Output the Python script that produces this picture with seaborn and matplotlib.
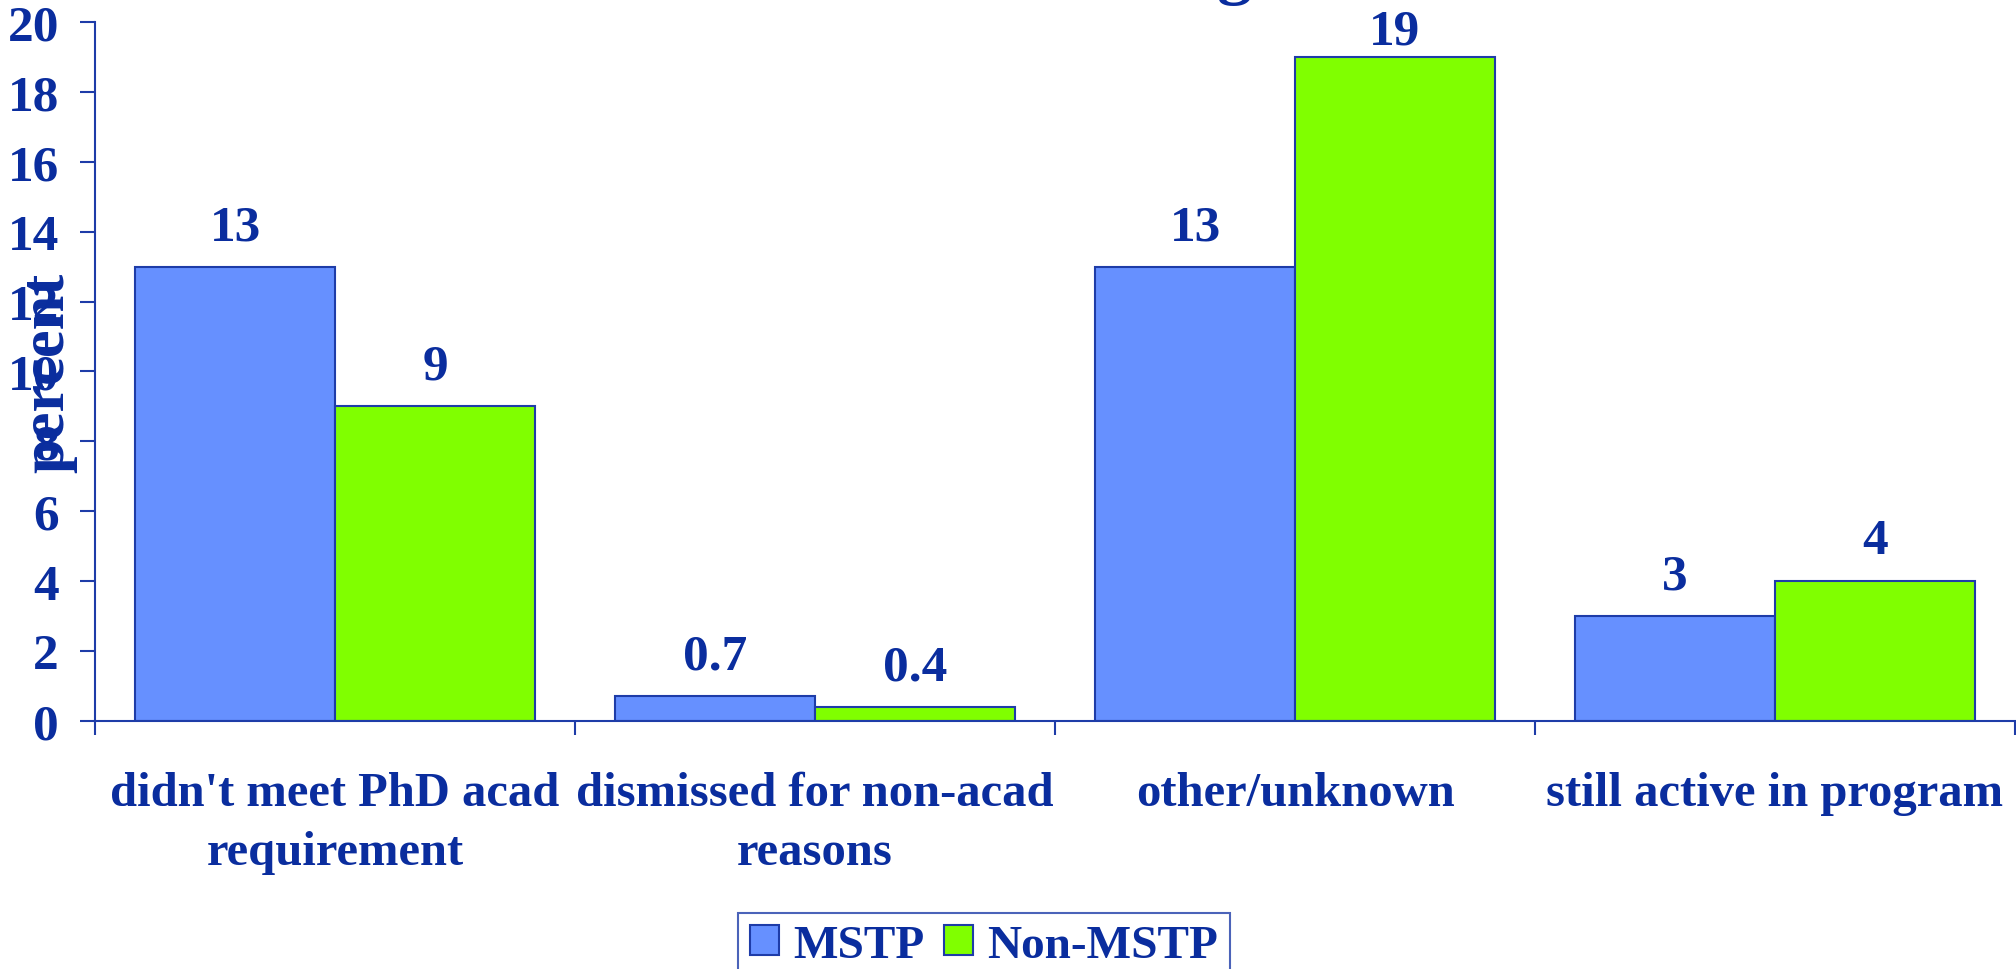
import matplotlib
matplotlib.use("Agg")
import matplotlib.pyplot as plt
import seaborn as sns
import pandas as pd
from matplotlib.patches import Patch

categories = ["didn't meet PhD acad\nrequirement", "dismissed for non-acad\nreasons",
              "other/unknown", "still active in program"]
mstp = [13, 0.7, 13, 3]
non_mstp = [9, 0.4, 19, 4]
label_mstp = ["13", "0.7", "13", "3"]
label_non = ["9", "0.4", "19", "4"]
series = ["MSTP", "Non-MSTP"]
yticks = list(range(0, 21, 2))

TXT = "#0A2D9E"
LINE = "#1E3CA8"
colors = {"MSTP": "#6690FF", "Non-MSTP": "#80FF00"}

df = pd.DataFrame({
    "category": categories * 2,
    "value": mstp + non_mstp,
    "series": ["MSTP"] * 4 + ["Non-MSTP"] * 4,
})

sns.set_theme(style="white")
plt.rcParams["font.family"] = ["Liberation Serif", "DejaVu Serif"]
plt.rcParams["font.weight"] = "bold"

fig = plt.figure(figsize=(20.16, 9.70), dpi=100)
ax = fig.add_axes([95 / 2016, 1 - 721.7 / 970, 1920 / 2016, (721.7 - 23.3) / 970])

sns.barplot(data=df, x="category", y="value", hue="series", order=categories,
            hue_order=series, palette=colors, width=0.833, gap=0,
            edgecolor=LINE, linewidth=1.5, ax=ax, legend=False, errorbar=None,
            saturation=1)

ax.set_xlim(-0.5, 3.5)
ax.set_ylim(0, 20)
ax.set_yticks(yticks)
ax.set_yticklabels([str(t) for t in yticks], fontsize=37, fontweight="bold", color=TXT)
ax.tick_params(axis="y", length=11, width=1.5, color=LINE, pad=15, left=True)
ax.set_xticks(range(4))
ax.set_xticklabels(categories, fontsize=35, fontweight="bold", color=TXT, linespacing=1.45)
ax.tick_params(axis="x", which="major", length=0, pad=36)
ax.set_xticks([-0.5, 0.5, 1.5, 2.5, 3.5], minor=True)
ax.tick_params(axis="x", which="minor", length=10, width=1.5, color=LINE, bottom=True)
ax.set_xlabel("")
ax.set_ylabel("percent", fontsize=45, fontweight="bold", color=TXT)
ax.yaxis.set_label_coords(-0.009, 0.5)

for s in ["top", "right"]:
    ax.spines[s].set_visible(False)
for s in ["left", "bottom"]:
    ax.spines[s].set_color(LINE)
    ax.spines[s].set_linewidth(1.5)

labels_all = [label_mstp, label_non]
for cont, labs in zip(ax.containers, labels_all):
    for bar, lab in zip(cont, labs):
        h = bar.get_height()
        pad = 12 if h < 18 else 2
        ax.annotate(lab, (bar.get_x() + bar.get_width() / 2, h), xytext=(0, pad),
                    textcoords="offset points", ha="center", va="bottom",
                    fontsize=37, fontweight="bold", color=TXT, annotation_clip=False)

handles = [Patch(facecolor=colors[s], edgecolor=LINE, linewidth=1.5, label=s) for s in series]
leg = fig.legend(handles=handles, loc="upper center", bbox_to_anchor=(984 / 2016, 1 - 914 / 970),
                 ncol=2, frameon=True, fancybox=False, fontsize=34, handlelength=0.62,
                 handleheight=0.62, handletextpad=0.3, columnspacing=0.4, borderpad=0.25,
                 borderaxespad=0)
leg.get_frame().set_edgecolor(LINE)
leg.get_frame().set_linewidth(1.5)
for t in leg.get_texts():
    t.set_color(TXT)
    t.set_fontweight("bold")

fig.text(1252 / 2016, 1 + 9 / 970, "Reasons for Leaving", ha="right", va="baseline",
         fontsize=50, fontweight="bold", color=TXT)

fig.savefig("out.png", dpi=100)
